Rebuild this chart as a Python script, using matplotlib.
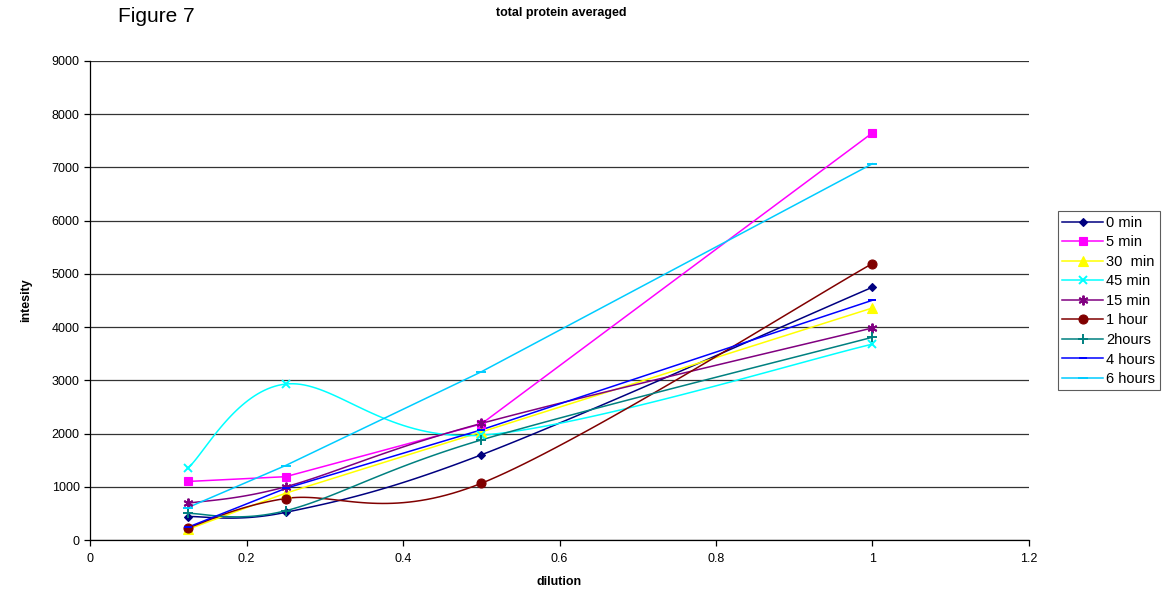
import numpy as np
import matplotlib
matplotlib.use("Agg")
import matplotlib.pyplot as plt

plt.rcParams['font.family'] = ['Liberation Sans', 'DejaVu Sans']

# dilution levels
dilution = [0.125, 0.25, 0.5, 1.0]

# averaged total protein intensity per time point
series_names = ["0 min", "5 min", "30  min", "45 min", "15 min",
                "1 hour", "2hours", "4 hours", "6 hours"]
v_0min = [440, 520, 1600, 4750]
v_5min = [1100, 1190, 2180, 7650]
v_30min = [200, 880, 2030, 4360]
v_45min = [1350, 2930, 1970, 3680]
v_15min = [690, 1000, 2190, 3985]
v_1hour = [230, 780, 1065, 5195]
v_2hours = [500, 550, 1880, 3810]
v_4hours = [240, 970, 2070, 4505]
v_6hours = [610, 1400, 3160, 7070]

values = [v_0min, v_5min, v_30min, v_45min, v_15min,
          v_1hour, v_2hours, v_4hours, v_6hours]
colors = ["#000080", "#FF00FF", "#FFFF00", "#00FFFF", "#800080",
          "#800000", "#008080", "#0000FF", "#00CCFF"]
markers = ["D", "s", "^", "x", (6, 2, 0), "o", "+", "_", "_"]
msizes = [4.5, 6, 6.5, 6, 7, 6.5, 7, 6, 7]
smooth = [True, False, False, True, True, True, True, False, False]


def smoothed(xs, ys, n=40):
    """Cardinal Bezier smoothing through the data points."""
    xs = np.asarray(xs, float)
    ys = np.asarray(ys, float)
    px = np.concatenate([[xs[0]], xs, [xs[-1]]])
    py = np.concatenate([[ys[0]], ys, [ys[-1]]])
    outx, outy = [], []
    t = np.linspace(0, 1, n)
    for i in range(1, len(px) - 2):
        p0 = np.array([px[i], py[i]])
        p3 = np.array([px[i + 1], py[i + 1]])
        c1 = p0 + (np.array([px[i + 1], py[i + 1]]) - np.array([px[i - 1], py[i - 1]])) / 6
        c2 = p3 - (np.array([px[i + 2], py[i + 2]]) - np.array([px[i], py[i]])) / 6
        b = ((1 - t) ** 3)[:, None] * p0 + (3 * (1 - t) ** 2 * t)[:, None] * c1 \
            + (3 * (1 - t) * t ** 2)[:, None] * c2 + (t ** 3)[:, None] * p3
        outx.extend(b[:, 0])
        outy.extend(b[:, 1])
    return outx, outy


fig = plt.figure(figsize=(11.66, 5.92), dpi=100)
ax = fig.add_axes([0.0772, 0.0878, 0.8053, 0.8092])

handles = []
for name, v, c, m, ms, sm in zip(series_names, values, colors, markers, msizes, smooth):
    if sm:
        lx, ly = smoothed(dilution, v)
    else:
        lx, ly = dilution, v
    mew = 1.4 if m in ("x", "+", "_") or isinstance(m, tuple) else 0.8
    ax.plot(lx, ly, color=c, lw=1.1, zorder=3)
    ax.plot(dilution, v, linestyle="none", marker=m, color=c, markersize=ms,
            markeredgewidth=mew, markeredgecolor=c, zorder=4)
    h, = ax.plot([], [], color=c, lw=1.1, marker=m, markersize=ms,
                 markeredgecolor=c, markeredgewidth=mew)
    handles.append(h)

ax.set_xlim(0, 1.2)
ax.set_ylim(0, 9000)
ax.set_xticks(np.arange(0, 1.21, 0.2))
ax.set_xticklabels(["0", "0.2", "0.4", "0.6", "0.8", "1", "1.2"])
ax.set_yticks(np.arange(0, 9001, 1000))
ax.yaxis.grid(True, color="#333333", lw=0.9)
ax.set_axisbelow(True)
for s in ("top", "right"):
    ax.spines[s].set_visible(False)
ax.spines["left"].set_linewidth(0.9)
ax.spines["bottom"].set_linewidth(0.9)
ax.tick_params(axis="both", labelsize=9, direction="out", length=4, width=0.9)
ax.tick_params(axis="x", pad=5)

ax.set_xlabel("dilution", fontsize=9, fontweight="bold", labelpad=8)
ax.set_ylabel("intesity", fontsize=9, fontweight="bold", labelpad=14)

fig.text(0.481, 0.978, "total protein averaged", fontsize=9, fontweight="bold",
         ha="center", va="center")
fig.text(0.101, 0.972, "Figure 7", fontsize=15, ha="left", va="center",
         family=["Liberation Sans Narrow", "Liberation Sans", "DejaVu Sans"])

leg = fig.legend(handles, series_names, loc="upper left",
                 bbox_to_anchor=(0.9074, 0.643), fontsize=10.5, frameon=True,
                 fancybox=False, edgecolor="#333333", handlelength=2.8,
                 handletextpad=0.2, labelspacing=0.38, borderpad=0.3,
                 borderaxespad=0)
leg.get_frame().set_linewidth(0.8)

fig.savefig("out.png", dpi=100, facecolor="white")
